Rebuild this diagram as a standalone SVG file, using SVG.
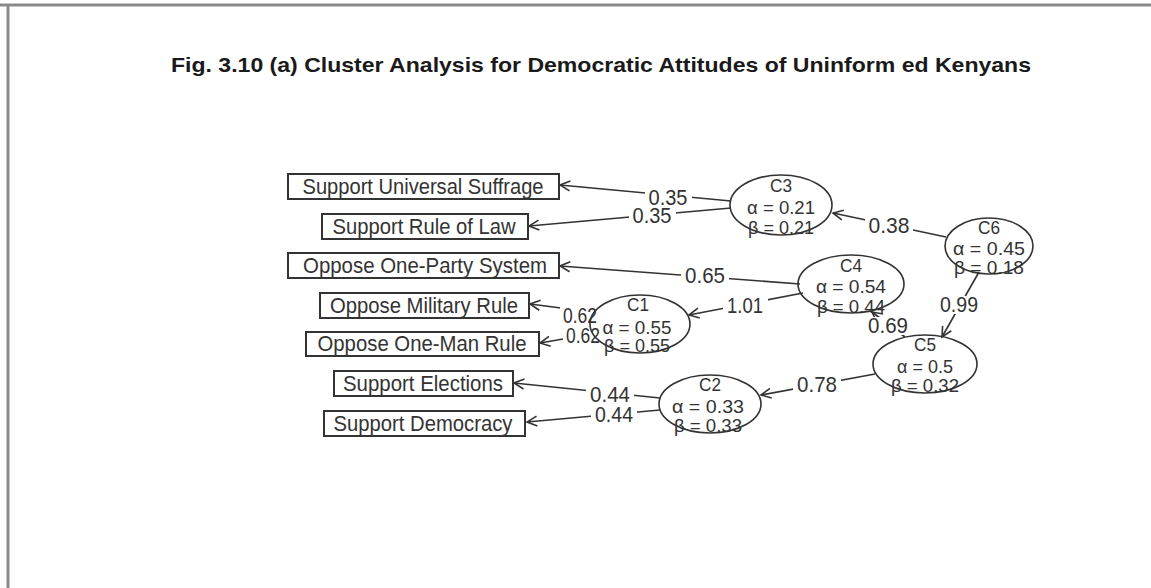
<svg xmlns="http://www.w3.org/2000/svg" width="1151" height="588" viewBox="0 0 1151 588">
  <style>
    .frame { stroke: #8a8a8a; stroke-width: 3; fill: none; }
    .title { font-family: "Liberation Sans", Arial, sans-serif; font-weight: bold; font-size: 21px; fill: #1a1a1a; }
    .box { fill: #ffffff; stroke: #333333; stroke-width: 2; }
    .lbl { font-family: "Liberation Sans", Arial, sans-serif; font-size: 22px; fill: #333333; text-anchor: middle; }
    .ct { font-family: "Liberation Sans", Arial, sans-serif; font-size: 19px; fill: #333333; text-anchor: middle; }
    .clu { fill: none; stroke: #333333; stroke-width: 1.6; }
    .edge { stroke: #333333; stroke-width: 1.6; fill: none; marker-end: url(#arr); }
    .bg { fill: #ffffff; }
  </style>
  <defs>
    <marker id="arr" markerUnits="userSpaceOnUse" markerWidth="14" markerHeight="14" refX="0" refY="0" viewBox="-12 -7 14 14" orient="auto">
      <path d="M-10,-5 L0,0 L-10,5" fill="none" stroke="#333333" stroke-width="1.6"/>
    </marker>
  </defs>

  <rect x="0" y="0" width="1151" height="588" fill="#ffffff"/>
  <line class="frame" x1="0" y1="5" x2="1151" y2="5"/>
  <line class="frame" x1="8" y1="5" x2="8" y2="588"/>

  <text class="title" x="171" y="72" textLength="860" lengthAdjust="spacingAndGlyphs">Fig. 3.10 (a) Cluster Analysis for Democratic Attitudes of Uninform ed Kenyans</text>

  <g id="connectors">
    <line class="edge" x1="731" y1="201" x2="560" y2="185"/>
    <line class="edge" x1="731" y1="208" x2="529" y2="226"/>
    <line class="edge" x1="946" y1="237" x2="833" y2="213"/>
    <line class="edge" x1="800" y1="284" x2="560" y2="266"/>
    <line class="edge" x1="803" y1="293" x2="689" y2="315"/>
    <line class="edge" x1="592" y1="312" x2="530" y2="304"/>
    <line class="edge" x1="592" y1="334" x2="540" y2="343"/>
    <line class="edge" x1="905" y1="337" x2="872" y2="312"/>
    <line class="edge" x1="979" y1="272" x2="942" y2="337"/>
    <line class="edge" x1="875" y1="374" x2="761" y2="395"/>
    <line class="edge" x1="660" y1="398" x2="514" y2="383"/>
    <line class="edge" x1="660" y1="410" x2="527" y2="422"/>

    <!-- label backings break the lines around each loading -->
    <rect class="bg" x="645" y="189" width="47" height="18"/>
    <rect class="bg" x="629" y="207" width="47" height="18"/>
    <rect class="bg" x="865" y="217" width="48" height="18"/>
    <rect class="bg" x="681" y="267" width="48" height="18"/>
    <rect class="bg" x="723" y="297" width="45" height="18"/>
    <rect class="bg" x="560" y="307" width="38" height="18"/>
    <rect class="bg" x="563" y="327" width="34" height="18"/>
    <rect class="bg" x="866" y="317" width="44" height="18"/>
    <rect class="bg" x="937" y="296" width="44" height="18"/>
    <rect class="bg" x="793" y="376" width="48" height="18"/>
    <rect class="bg" x="586" y="386" width="48" height="18"/>
    <rect class="bg" x="591" y="406" width="46" height="18"/>

    <text class="lbl" x="668" y="205" textLength="39" lengthAdjust="spacingAndGlyphs">0.35</text>
    <text class="lbl" x="652" y="223" textLength="39" lengthAdjust="spacingAndGlyphs">0.35</text>
    <text class="lbl" x="889" y="233" textLength="41" lengthAdjust="spacingAndGlyphs">0.38</text>
    <text class="lbl" x="705" y="283" textLength="40" lengthAdjust="spacingAndGlyphs">0.65</text>
    <text class="lbl" x="745" y="313" textLength="36" lengthAdjust="spacingAndGlyphs">1.01</text>
    <text class="lbl" x="580" y="323" textLength="34" lengthAdjust="spacingAndGlyphs">0.62</text>
    <text class="lbl" x="583" y="343" textLength="34" lengthAdjust="spacingAndGlyphs">0.62</text>
    <text class="lbl" x="888" y="333" textLength="40" lengthAdjust="spacingAndGlyphs">0.69</text>
    <text class="lbl" x="959" y="312" textLength="38" lengthAdjust="spacingAndGlyphs">0.99</text>
    <text class="lbl" x="817" y="392" textLength="40" lengthAdjust="spacingAndGlyphs">0.78</text>
    <text class="lbl" x="610" y="402" textLength="40" lengthAdjust="spacingAndGlyphs">0.44</text>
    <text class="lbl" x="614" y="422" textLength="38" lengthAdjust="spacingAndGlyphs">0.44</text>
  </g>

  <g id="n-suffrage">
    <rect class="box" x="288" y="174" width="271" height="25"/>
    <text class="lbl" x="423" y="194" textLength="241" lengthAdjust="spacingAndGlyphs">Support Universal Suffrage</text>
  </g>
  <g id="n-ruleoflaw">
    <rect class="box" x="322" y="214" width="206" height="25"/>
    <text class="lbl" x="424" y="234" textLength="183" lengthAdjust="spacingAndGlyphs">Support Rule of Law</text>
  </g>
  <g id="n-oneparty">
    <rect class="box" x="288" y="253" width="271" height="25"/>
    <text class="lbl" x="425" y="273" textLength="244" lengthAdjust="spacingAndGlyphs">Oppose One-Party System</text>
  </g>
  <g id="n-military">
    <rect class="box" x="320" y="293" width="209" height="25"/>
    <text class="lbl" x="424" y="313" textLength="188" lengthAdjust="spacingAndGlyphs">Oppose Military Rule</text>
  </g>
  <g id="n-oneman">
    <rect class="box" x="306" y="332" width="233" height="24"/>
    <text class="lbl" x="422" y="351" textLength="209" lengthAdjust="spacingAndGlyphs">Oppose One-Man Rule</text>
  </g>
  <g id="n-elections">
    <rect class="box" x="334" y="371" width="179" height="25"/>
    <text class="lbl" x="423" y="391" textLength="160" lengthAdjust="spacingAndGlyphs">Support Elections</text>
  </g>
  <g id="n-democracy">
    <rect class="box" x="324" y="411" width="201" height="25"/>
    <text class="lbl" x="423" y="431" textLength="179" lengthAdjust="spacingAndGlyphs">Support Democracy</text>
  </g>

  <g id="c3">
    <ellipse class="clu" cx="781" cy="205" rx="51" ry="30"/>
    <text class="ct" x="781" y="192" textLength="22" lengthAdjust="spacingAndGlyphs">C3</text>
    <text class="ct" x="781" y="214" textLength="68" lengthAdjust="spacingAndGlyphs">α = 0.21</text>
    <text class="ct" x="781" y="234" textLength="66" lengthAdjust="spacingAndGlyphs">β = 0.21</text>
  </g>
  <g id="c6">
    <ellipse class="clu" cx="989" cy="246" rx="44" ry="28"/>
    <text class="ct" x="989" y="234" textLength="22" lengthAdjust="spacingAndGlyphs">C6</text>
    <text class="ct" x="989" y="255" textLength="72" lengthAdjust="spacingAndGlyphs">α = 0.45</text>
    <text class="ct" x="989" y="274" textLength="70" lengthAdjust="spacingAndGlyphs">β = 0.18</text>
  </g>
  <g id="c4">
    <ellipse class="clu" cx="851" cy="284" rx="53" ry="29"/>
    <text class="ct" x="851" y="272" textLength="22" lengthAdjust="spacingAndGlyphs">C4</text>
    <text class="ct" x="851" y="293" textLength="70" lengthAdjust="spacingAndGlyphs">α = 0.54</text>
    <text class="ct" x="851" y="313" textLength="68" lengthAdjust="spacingAndGlyphs">β = 0.44</text>
  </g>
  <g id="c1">
    <ellipse class="clu" cx="640" cy="324" rx="50" ry="29"/>
    <text class="ct" x="638" y="311" textLength="22" lengthAdjust="spacingAndGlyphs">C1</text>
    <text class="ct" x="637" y="334" textLength="69" lengthAdjust="spacingAndGlyphs">α = 0.55</text>
    <text class="ct" x="637" y="352" textLength="66" lengthAdjust="spacingAndGlyphs">β = 0.55</text>
  </g>
  <g id="c5">
    <ellipse class="clu" cx="925" cy="364" rx="52" ry="29"/>
    <text class="ct" x="925" y="351" textLength="22" lengthAdjust="spacingAndGlyphs">C5</text>
    <text class="ct" x="925" y="373" textLength="56" lengthAdjust="spacingAndGlyphs">α = 0.5</text>
    <text class="ct" x="925" y="392" textLength="68" lengthAdjust="spacingAndGlyphs">β = 0.32</text>
  </g>
  <g id="c2">
    <ellipse class="clu" cx="710" cy="404" rx="51" ry="29"/>
    <text class="ct" x="710" y="391" textLength="22" lengthAdjust="spacingAndGlyphs">C2</text>
    <text class="ct" x="708" y="413" textLength="72" lengthAdjust="spacingAndGlyphs">α = 0.33</text>
    <text class="ct" x="708" y="432" textLength="68" lengthAdjust="spacingAndGlyphs">β = 0.33</text>
  </g>
</svg>
